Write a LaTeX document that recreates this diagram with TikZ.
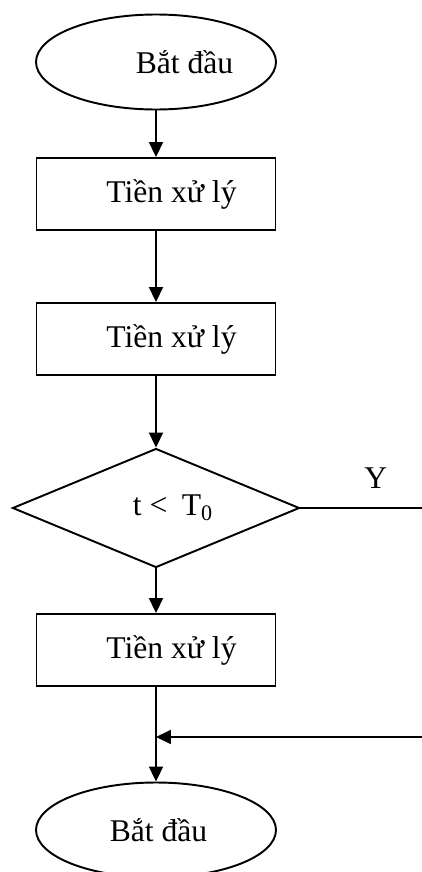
\documentclass[tikz,border=0pt]{standalone}
\usepackage{fontspec}
\setmainfont{Liberation Serif}
\usepackage{tikz}
\usetikzlibrary{arrows.meta,calc,positioning,shapes.geometric}

\begin{document}
\begin{tikzpicture}[x=0.02cm, y=-0.02cm, line width=1.1pt,
    >={Triangle[length=0.3cm, width=0.28cm]},
    every node/.style={font=\fontsize{18}{21}\selectfont},
    termbox/.style={draw, ellipse, inner sep=0pt, minimum width=4.8cm, minimum height=1.9cm},
    procbox/.style={draw, rectangle, inner sep=0pt, minimum width=4.78cm, minimum height=1.44cm},
    testbox/.style={draw, diamond, shape aspect=2.4, inner sep=0pt, minimum width=5.74cm, minimum height=2.38cm}]
  \useasboundingbox (0,0) rectangle (422,872);
  \node[termbox] (start) at (156,62) {\hspace*{1.14cm}Bắt đầu};
  \node[procbox] (pre1) at (156,194) {\hspace*{0.62cm}Tiền xử lý};
  \node[procbox] (pre2) at (156,339) {\hspace*{0.62cm}Tiền xử lý};
  \node[testbox] (cond) at (156,508) {\hspace*{0.68cm}t <\hspace{0.45em}T\textsubscript{0}};
  \node[procbox] (pre3) at (156,650) {\hspace*{0.62cm}Tiền xử lý};
  \node[termbox] (stop) at (156,830) {\hspace*{0.1cm}Bắt đầu};
  \coordinate (yout) at (422,508);
  \coordinate (nin) at (422,737);
  \coordinate (join) at (156,737);
  \draw[->] (start) -- (pre1);
  \draw[->] (pre1) -- (pre2);
  \draw[->] (pre2) -- (cond);
  \draw[->] (cond) -- (pre3);
  \draw (cond.east) -- (yout) node[pos=0.62, above=0.26cm] (ylab) {Y};
  \draw[->] (pre3) -- (stop);
  \draw[->] (nin) -- (join);
\end{tikzpicture}
\end{document}
